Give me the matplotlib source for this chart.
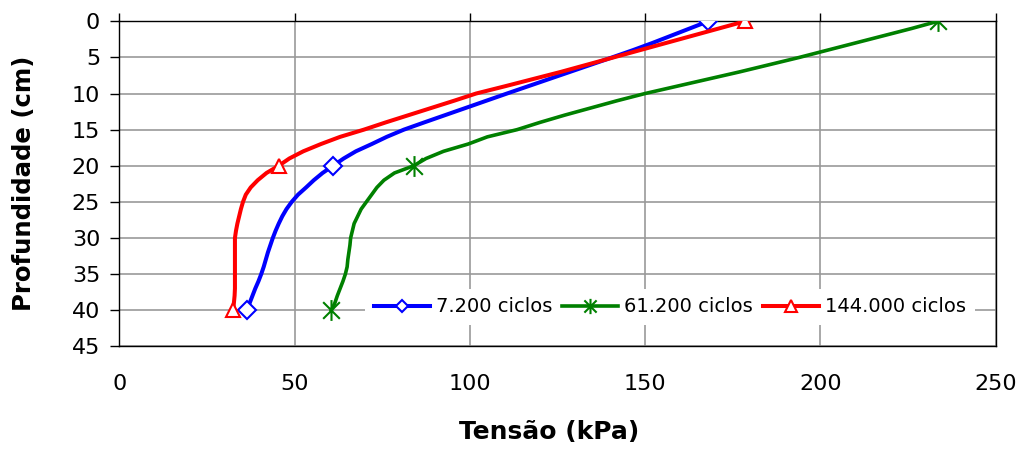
import matplotlib
matplotlib.use("Agg")
import matplotlib.pyplot as plt
from matplotlib.path import Path

# ---- data ----
depth = [0, 1, 2, 3, 4, 5, 6, 7, 8, 9, 10, 11, 12, 13, 14, 15, 16, 17, 18, 19, 20,
         21, 22, 23, 24, 25, 26, 27, 28, 29, 30, 31, 32, 33, 34, 35, 36, 37, 38, 39, 40]

tensao_7200 = [168, 162.7, 157.4, 152.1, 146.5, 140.6, 134.6, 128.6, 122.6, 116.6, 110.6,
               104.7, 98.8, 92.9, 87, 81.2, 76.3, 72, 67.5, 64, 61,
               58, 55.5, 53.3, 51, 49.2, 47.7, 46.5, 45.5, 44.6, 43.8,
               43.1, 42.4, 41.8, 41.2, 40.5, 39.7, 38.8, 38, 37.2, 36.5]

tensao_61200 = [233.5, 226, 218, 210, 202, 194, 185.5, 177, 168, 159, 150,
                142, 134.5, 127, 120, 113.5, 105, 99.5, 92.5, 87.5, 84,
                78.5, 75.5, 73.5, 72, 70.5, 69, 68, 67, 66.5, 66,
                65.8, 65.5, 65.2, 65, 64.5, 63.8, 63, 62.2, 61.5, 60.5]

tensao_144000 = [178.5, 171, 163.5, 156, 148.5, 141, 133.5, 126, 118, 110, 101.8,
                 95.5, 89, 82.5, 76, 69.8, 63, 57.5, 52.5, 48.5, 45.5,
                 42, 39.5, 37.5, 36.1, 35.3, 34.7, 34.2, 33.7, 33.3, 33,
                 33, 33, 33, 33, 33, 33, 33, 32.9, 32.7, 32.5]

series_labels = ["7.200 ciclos", "61.200 ciclos", "144.000 ciclos"]
x_ticks = [0, 50, 100, 150, 200, 250]
y_ticks = [0, 5, 10, 15, 20, 25, 30, 35, 40, 45]
marker_idx = [0, 20, 40]

# ---- figure ----
plt.rcParams['font.family'] = ['DejaVu Sans']
fig = plt.figure(figsize=(10.21, 4.5), dpi=100)
ax = fig.add_axes([0.1168, 0.2304, 0.8584, 0.7223])

star = Path([(0, -1), (0, 1), (-0.8, -0.8), (0.8, 0.8), (-0.8, 0.8), (0.8, -0.8)],
            [Path.MOVETO, Path.LINETO, Path.MOVETO, Path.LINETO, Path.MOVETO, Path.LINETO])

l1, = ax.plot(tensao_7200, depth, color='#0000FF', lw=2.9, marker='D', ms=9,
              mfc='white', mec='#0000FF', mew=1.5, markevery=marker_idx,
              label=series_labels[0], zorder=3)
l2, = ax.plot(tensao_61200, depth, color='#008000', lw=2.6, marker=star, ms=15,
              mfc='none', mec='#008000', mew=1.5, markevery=marker_idx,
              label=series_labels[1], zorder=3)
l3, = ax.plot(tensao_144000, depth, color='#FF0000', lw=2.9, marker='^', ms=10,
              mfc='white', mec='#FF0000', mew=1.5, markevery=marker_idx,
              label=series_labels[2], zorder=3)

ax.set_xlim(0, 250)
ax.set_ylim(45, 0)
ax.set_xticks(x_ticks)
ax.set_yticks(y_ticks)
ax.set_xticklabels([str(v) for v in x_ticks])
ax.set_yticklabels([str(v) for v in y_ticks])

ax.grid(True, color='#999999', lw=1.2, zorder=0)
ax.set_axisbelow(True)
for s in ax.spines.values():
    s.set_color('black')
    s.set_linewidth(1.0)

ax.tick_params(axis='x', which='both', bottom=False, top=True, labelbottom=True,
               labeltop=False, direction='out', length=6, width=1.0, pad=14,
               labelsize=16, colors='black')
ax.tick_params(axis='y', direction='out', length=6.7, width=1.0, pad=7,
               labelsize=16, colors='black')

ax.set_xlabel('Tensão (kPa)', fontsize=18, fontweight='bold')
ax.set_ylabel('Profundidade (cm)', fontsize=17.6, fontweight='bold')
ax.xaxis.set_label_coords(0.491, -0.227)
ax.yaxis.set_label_coords(-0.095, 0.5)

leg = ax.legend(loc='center', bbox_to_anchor=(0.628, 0.121), ncol=3, fontsize=14,
                frameon=True, facecolor='white', edgecolor='none', framealpha=1,
                handlelength=2.9, handletextpad=0.3, columnspacing=0.5,
                borderpad=0.45, numpoints=1, fancybox=False)
leg.get_frame().set_linewidth(0)
sizes = [6, 11, 9]
for h, s in zip(leg.legend_handles, sizes):
    h.set_markersize(s)

fig.savefig('out.png', dpi=100, facecolor='white')
